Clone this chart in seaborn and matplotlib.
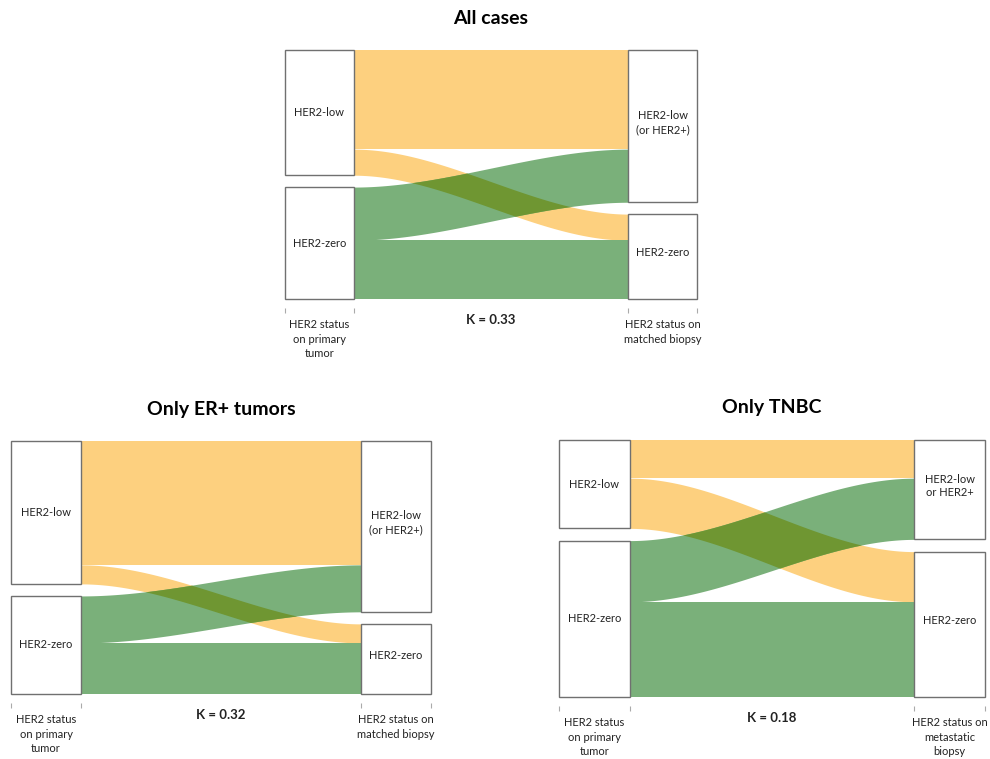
import numpy as np
import matplotlib
matplotlib.use("Agg")
import matplotlib.pyplot as plt
from matplotlib.patches import Rectangle
import seaborn as sns

# Share of cases (%) per transition: primary status -> biopsy status
transitions = ["low->low", "low->zero", "zero->low", "zero->zero"]
all_cases = [41.8, 11.0, 22.4, 24.8]
er_pos = [51.4, 7.9, 19.5, 21.2]
tnbc = [15.6, 20.5, 25.0, 38.9]

titles = ["All cases", "Only ER+ tumors", "Only TNBC"]
kappas = ["K = 0.33", "K = 0.32", "K = 0.18"]
left_labels = ["HER2-low", "HER2-zero"]
right_labels = [
    ["HER2-low\n(or HER2+)", "HER2-zero"],
    ["HER2-low\n(or HER2+)", "HER2-zero"],
    ["HER2-low\nor HER2+", "HER2-zero"],
]
left_axis_label = "HER2 status\non primary\ntumor"
right_axis_labels = [
    "HER2 status on\nmatched biopsy",
    "HER2 status on\nmatched biopsy",
    "HER2 status on\nmetastatic\nbiopsy",
]

sns.set_theme(style="white")
plt.rcParams["font.family"] = ["Lato", "DejaVu Sans"]

ORANGE, GREEN = sns.color_palette(["#FDD07F", "#7AB07A"])
OLIVE = "#6F9632"
EDGE = "#707070"
TEXT = "#222222"
GAP = 5.0
PT = 0.72  # points per pixel at 100 dpi

W, H = 990, 759
fig = plt.figure(figsize=(W / 100, H / 100), dpi=100)
fig.patch.set_facecolor("white")

# panel rectangles in pixels: left, top, right, bottom
panel_px = [(285, 50, 697, 299), (11, 441, 431, 694), (559, 440, 985, 697)]
panel_values = [all_cases, er_pos, tnbc]


def band(x, y_left, y_right, height):
    t = (x - 1.0) / 4.0
    s = 3 * t ** 2 - 2 * t ** 3
    top = y_left + (y_right - y_left) * s
    return top, top + height


def draw_panel(ax, values, title, kappa, rlabels, rlabel_axis):
    ll, lz, zl, zz = values
    left_low = (0.0, ll + lz)
    left_zero = (ll + lz + GAP, ll + lz + GAP + zl + zz)
    right_low = (0.0, ll + zl)
    right_zero = (ll + zl + GAP, ll + zl + GAP + lz + zz)
    total = max(left_zero[1], right_zero[1])

    flows = [
        (left_low[0], right_low[0], ll, ORANGE),
        (left_low[0] + ll, right_zero[0], lz, ORANGE),
        (left_zero[0], right_low[0] + ll, zl, GREEN),
        (left_zero[0] + zl, right_zero[0] + lz, zz, GREEN),
    ]
    x = np.linspace(1, 5, 400)
    edges = []
    for yl, yr, h, c in flows:
        top, bot = band(x, yl, yr, h)
        ax.fill_between(x, top, bot, color=c, lw=0, zorder=1)
        edges.append((top, bot))

    # where the two crossing bands overlap
    (t1, b1), (t2, b2) = edges[1], edges[2]
    lo = np.maximum(t1, t2)
    hi = np.minimum(b1, b2)
    ax.fill_between(x, lo, hi, where=hi > lo, interpolate=True,
                    color=OLIVE, lw=0, zorder=2)

    # node boxes
    for x0, (y0, y1) in [(0, left_low), (0, left_zero), (5, right_low), (5, right_zero)]:
        ax.add_patch(Rectangle((x0, y0), 1, y1 - y0, facecolor="white",
                               edgecolor=EDGE, lw=1.0, zorder=3, clip_on=False))

    fs = 8
    for lab, (y0, y1) in zip(left_labels, [left_low, left_zero]):
        ax.text(0.5, (y0 + y1) / 2, lab, ha="center", va="center",
                fontsize=fs, color=TEXT, zorder=4)
    for lab, (y0, y1) in zip(rlabels, [right_low, right_zero]):
        ax.text(5.5, (y0 + y1) / 2 - 1.5, lab, ha="center", va="center",
                fontsize=fs, color=TEXT, zorder=4, linespacing=1.3)

    ax.set_xlim(0, 6)
    ax.set_ylim(total, 0)
    ax.set_yticks([])
    ax.set_xticks([0, 1, 5, 6])
    ax.tick_params(axis="x", bottom=True, direction="out", length=5 * PT,
                   width=0.8, color="#aaaaaa", labelbottom=False)
    for side in ["top", "right", "left", "bottom"]:
        ax.spines[side].set_visible(False)
    ax.spines["bottom"].set_position(("outward", 9 * PT))
    ax.patch.set_alpha(0)

    ax.annotate(title, xy=(3, 1), xycoords=("data", "axes fraction"),
                xytext=(0, 32 * PT), textcoords="offset points",
                ha="center", va="center", fontsize=14, fontweight="bold",
                color="black")
    ax.annotate(kappa, xy=(3, 0), xycoords=("data", "axes fraction"),
                xytext=(0, -21 * PT), textcoords="offset points",
                ha="center", va="center", fontsize=9.5, fontweight="bold",
                color=TEXT)
    ax.annotate(left_axis_label, xy=(0.5, 0), xycoords=("data", "axes fraction"),
                xytext=(0, -20 * PT), textcoords="offset points",
                ha="center", va="top", fontsize=fs, color=TEXT, linespacing=1.4)
    ax.annotate(rlabel_axis, xy=(5.5, 0), xycoords=("data", "axes fraction"),
                xytext=(0, -20 * PT), textcoords="offset points",
                ha="center", va="top", fontsize=fs, color=TEXT, linespacing=1.4)


for (l, t, r, b), vals, ttl, k, rl, ra in zip(panel_px, panel_values, titles,
                                                kappas, right_labels, right_axis_labels):
    ax = fig.add_axes([l / W, 1 - b / H, (r - l) / W, (b - t) / H])
    draw_panel(ax, vals, ttl, k, rl, ra)

fig.savefig("out.png", dpi=100, facecolor="white")
